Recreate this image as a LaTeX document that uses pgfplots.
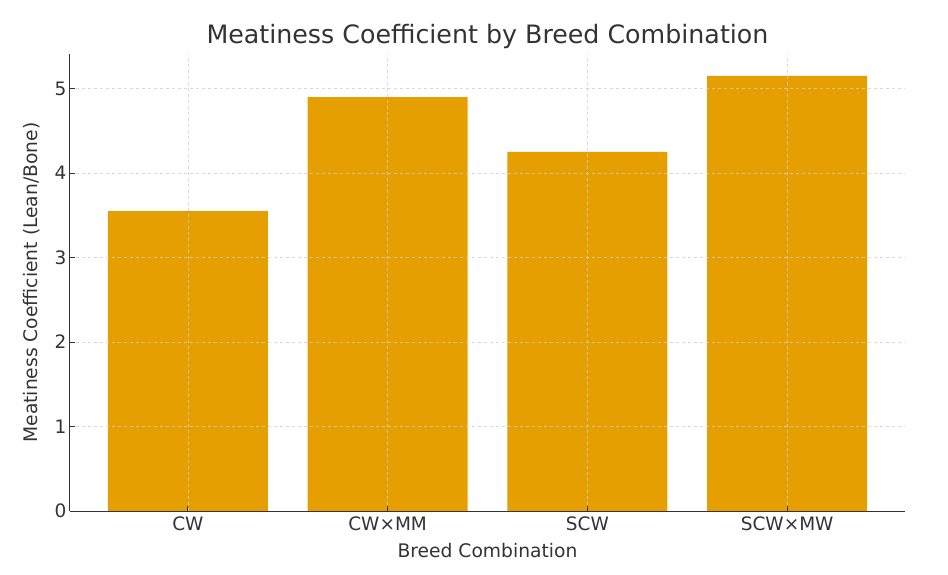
\documentclass[border=0pt]{standalone}
\usepackage{fontspec}
\setmainfont{DejaVu Sans}
\usepackage{pgfplots}
\pgfplotsset{compat=1.18}
\definecolor{barorange}{HTML}{E69F00}
\definecolor{txt}{HTML}{333333}
\definecolor{gridc}{HTML}{D0D0D0}
\begin{document}
\begin{tikzpicture}
\useasboundingbox (-70pt,-63pt) rectangle (878pt,511pt);
\begin{axis}[
  at={(0pt,0pt)}, anchor=south west,
  width=835pt, height=457pt, scale only axis,
  xmin=-0.59, xmax=3.59, ymin=0, ymax=5.41,
  axis x line*=bottom, axis y line*=left,
  axis line style={txt, line width=1pt},
  xtick={0,1,2,3},
  xticklabels={CW, CW×MM, SCW, SCW×MW},
  ytick={0,1,2,3,4,5},
  tick style={txt, line width=0.8pt},
  major tick length=5pt,
  grid=major,
  major grid style={gridc, dashed, line width=0.6pt, opacity=0.8},
  axis on top,
  /pgf/number format/assume math mode=true,
  tick label style={font=\fontsize{18.5}{21}\selectfont, text=txt},
  xticklabel style={yshift=-2pt},
  xlabel={Breed Combination},
  ylabel={Meatiness Coefficient (Lean/Bone)},
  label style={font=\fontsize{18.7}{21}\selectfont, text=txt},
  xlabel style={at={(axis description cs:0.5,-0.1007)}, anchor=base},
  ylabel style={at={(axis description cs:-0.032,0.5)}, anchor=south},
  title={Meatiness Coefficient by Breed Combination},
  title style={font=\fontsize{25.3}{29}\selectfont, text=txt, at={(axis description cs:0.5,1.0088)}, anchor=base},
]
\addplot[ybar, bar width=0.8, fill=barorange, draw=none] coordinates {
  (0,3.55) (1,4.90) (2,4.25) (3,5.15)
};
\end{axis}
\end{tikzpicture}
\end{document}
